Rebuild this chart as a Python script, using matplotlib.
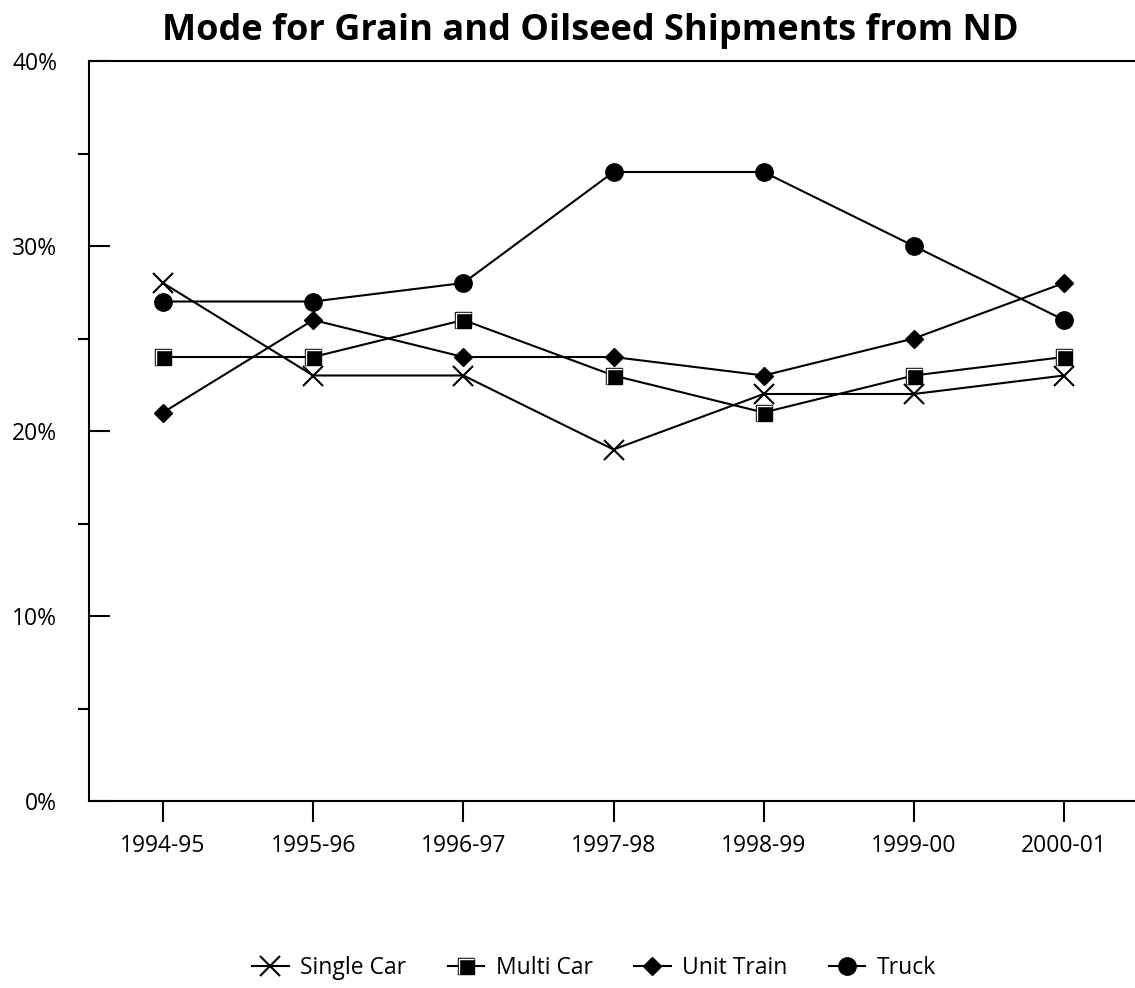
import matplotlib
matplotlib.use("Agg")
import matplotlib.pyplot as plt
from matplotlib.path import Path
from matplotlib.legend_handler import HandlerTuple
from matplotlib.ticker import FixedLocator, FuncFormatter

# Shipment shares by mode (percent of grain and oilseed shipments)
seasons = ["1994-95", "1995-96", "1996-97", "1997-98", "1998-99", "1999-00", "2000-01"]
single_car = [28, 23, 23, 19, 22, 22, 23]
multi_car = [24, 24, 26, 23, 21, 23, 24]
unit_train = [21, 26, 24, 24, 23, 25, 28]
truck = [27, 27, 28, 34, 34, 30, 26]

title = "Mode for Grain and Oilseed Shipments from ND"
series_names = ["Single Car", "Multi Car", "Unit Train", "Truck"]

plt.rcParams["font.family"] = ["Open Sans", "DejaVu Sans"]

W, H = 1135, 988
fig = plt.figure(figsize=(W / 100, H / 100), dpi=100)
ax = fig.add_axes([89 / W, (H - 801) / H, (W - 89) / W, (801 - 61) / H])

x = list(range(len(seasons)))
lw = 1.5
fs = 16.5

# white bevel highlight drawn on top of the square markers
bevel = Path([(-0.62, -0.75), (-0.62, 0.62), (0.75, 0.62)],
             [Path.MOVETO, Path.LINETO, Path.LINETO])

h1, = ax.plot(x, single_car, color="black", lw=lw, marker="x", ms=14.5, mew=1.5)
h2, = ax.plot(x, multi_car, color="black", lw=lw, marker="s", ms=11.5,
              mfc="black", mec="black")
h2b, = ax.plot(x, multi_car, ls="none", marker=bevel, ms=11.5,
               mfc="none", mec="white", mew=1.0)
h3, = ax.plot(x, unit_train, color="black", lw=lw, marker="D", ms=9.5,
              mfc="black", mec="black")
h4, = ax.plot(x, truck, color="black", lw=lw, marker="o", ms=12.5,
              mfc="black", mec="black")

ax.set_xlim(-0.493, 6.473)
ax.set_ylim(0, 40)

for s in ("top", "bottom", "left"):
    ax.spines[s].set_linewidth(1.5)
ax.spines["right"].set_visible(False)

ax.set_xticks(x)
ax.set_xticklabels(seasons)
ax.tick_params(axis="x", direction="out", length=15, width=1.5, pad=9,
               labelsize=fs)

ax.yaxis.set_major_locator(FixedLocator([0, 10, 20, 30, 40]))
ax.yaxis.set_minor_locator(FixedLocator([5, 15, 25, 30, 35, 40]))
ax.yaxis.set_major_formatter(FuncFormatter(lambda v, p: f"{v:.0f}%"))
ax.tick_params(axis="y", which="major", direction="in", length=15, width=1.5,
               pad=23, labelsize=fs)
ax.tick_params(axis="y", which="minor", direction="out", length=8, width=1.5)

fig.text(0.52, 1 - 40 / H, title, ha="center", va="baseline",
         fontsize=26, fontweight="bold")

fig.legend([h1, (h2, h2b), h3, h4], series_names,
           handler_map={tuple: HandlerTuple(ndivide=1, pad=0)},
           loc="center", bbox_to_anchor=(594 / W, 1 - 968 / H),
           ncol=4, frameon=False, fontsize=fs, handlelength=1.6,
           handletextpad=0.5, columnspacing=1.8)

fig.savefig("out.png", dpi=100)
